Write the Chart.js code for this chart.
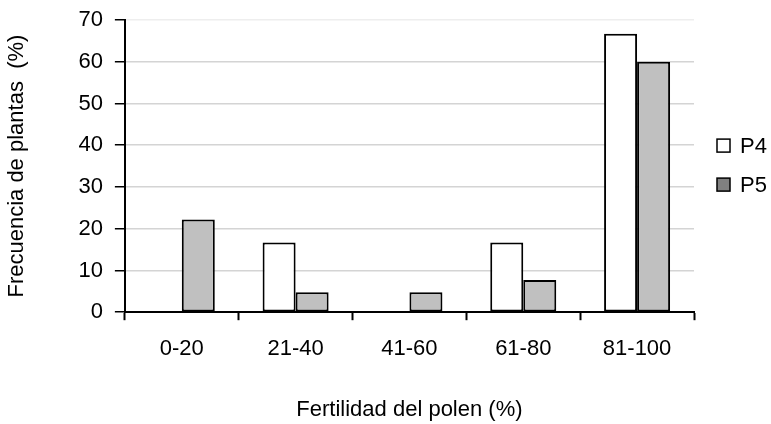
<!DOCTYPE html>
<html lang="es">
<head>
  <meta charset="UTF-8">
  <title>Fertilidad del polen</title>
  <script src="https://cdn.jsdelivr.net/npm/chart.js"></script>
  <style>
    html, body { margin: 0; padding: 0; background: #fff; }
    .grafico { width: 771px; height: 424px; }
  </style>
</head>
<body>
  <div class="grafico"><canvas id="graficoPolen"></canvas></div>
  <script>
    // datos
    const categorias = ['0-20', '21-40', '41-60', '61-80', '81-100'];
    const valoresP4 = [0, 16.7, 0, 16.7, 66.7];
    const valoresP5 = [22.2, 4.8, 4.8, 7.7, 60];
    const marcasY = [0, 10, 20, 30, 40, 50, 60, 70];
    const coloresLeyenda = ['#ffffff', '#808080'];

    const fuente = "'Liberation Sans', Arial, sans-serif";
    Chart.defaults.font.family = fuente;
    Chart.defaults.color = '#000';

    // leyenda a la derecha, centrada respecto al area del grafico (como en Excel)
    const leyendaDerecha = {
      id: 'leyendaDerecha',
      afterDraw(chart) {
        const { ctx, chartArea } = chart;
        const n = chart.data.datasets.length;
        const paso = 39;
        const centro = (chartArea.top + chartArea.bottom) / 2;
        const x = chartArea.right + 23;
        ctx.save();
        ctx.font = '22px ' + fuente;
        ctx.textBaseline = 'middle';
        chart.data.datasets.forEach((ds, i) => {
          const y = centro + (i - (n - 1) / 2) * paso - 1;
          ctx.fillStyle = coloresLeyenda[i];
          ctx.fillRect(x, y - 6.5, 13, 13);
          ctx.strokeStyle = '#000';
          ctx.lineWidth = 1.5;
          ctx.strokeRect(x, y - 6.5, 13, 13);
          ctx.fillStyle = '#000';
          ctx.fillText(ds.label, x + 23, y + 1);
        });
        ctx.restore();
      }
    };

    new Chart(document.getElementById('graficoPolen'), {
      type: 'bar',
      data: {
        labels: categorias,
        datasets: [
          { label: 'P4', data: valoresP4, backgroundColor: '#ffffff', borderColor: '#000', borderWidth: 2, borderSkipped: false },
          { label: 'P5', data: valoresP5, backgroundColor: '#c0c0c0', borderColor: '#000', borderWidth: 2, borderSkipped: false }
        ]
      },
      options: {
        responsive: true,
        maintainAspectRatio: false,
        animation: false,
        categoryPercentage: 0.58,
        barPercentage: 1,
        layout: { padding: { top: 20, right: 77, bottom: 1, left: 4 } },
        scales: {
          x: {
            grid: { offset: true, drawOnChartArea: false, tickLength: 8, tickColor: '#000', tickWidth: 2 },
            border: { color: '#000', width: 2 },
            ticks: { font: { size: 22 }, padding: 16 },
            title: { display: true, text: 'Fertilidad del polen (%)', font: { size: 22 }, padding: { top: 18, bottom: 0 } }
          },
          y: {
            min: 0,
            max: 70,
            afterBuildTicks: axis => { axis.ticks = marcasY.map(v => ({ value: v })); },
            afterFit: axis => { axis.paddingTop = 0; },
            grid: {
              color: ctx => ctx.index === marcasY.length - 1 ? '#eeeeee' : '#d4d4d4',
              lineWidth: 1.5,
              tickLength: 10,
              tickColor: '#000',
              tickWidth: 1.5
            },
            border: { color: '#000', width: 2 },
            ticks: { font: { size: 22 }, padding: 12 },
            title: { display: true, text: 'Frecuencia de plantas  (%)', font: { size: 22 }, padding: { top: 0, bottom: 36 } }
          }
        },
        plugins: {
          legend: { display: false },
          tooltip: { enabled: false }
        }
      },
      plugins: [leyendaDerecha]
    });
  </script>
</body>
</html>
